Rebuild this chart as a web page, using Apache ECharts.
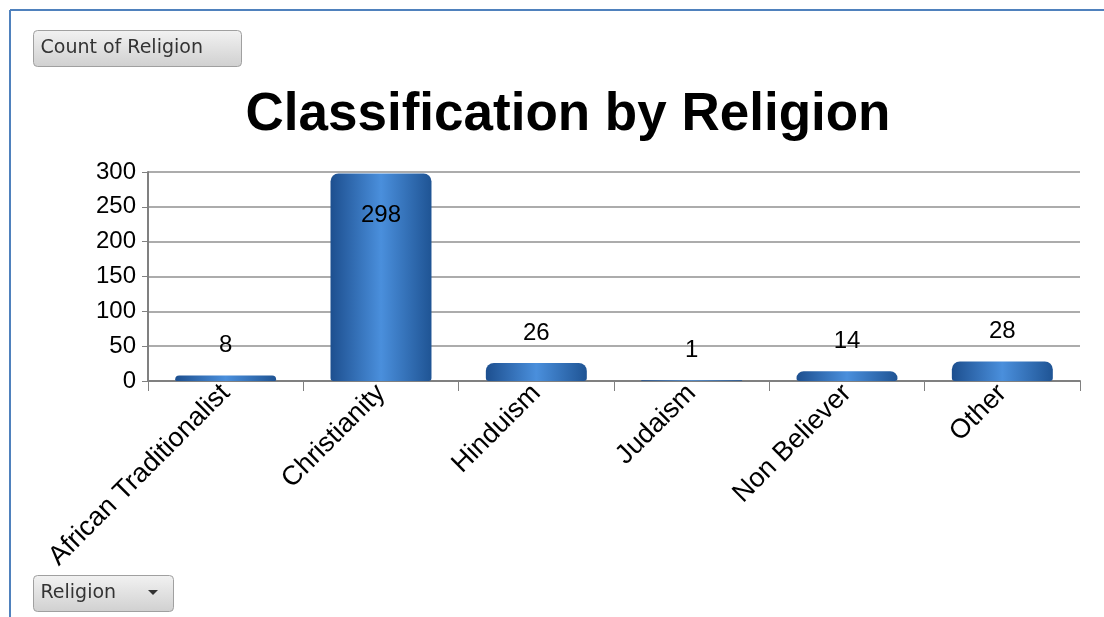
<!DOCTYPE html>
<html lang="en">
<head>
  <meta charset="UTF-8">
  <title>Classification by Religion</title>
  <script src="https://cdn.jsdelivr.net/npm/echarts@6/dist/echarts.min.js"></script>
  <style>
    * { margin: 0; padding: 0; }
    body { background: #fff; }
    #main { width: 1104px; height: 617px; }
  </style>
</head>
<body>
  <div id="main"></div>
  <script>
    var categories = ['African Traditionalist', 'Christianity', 'Hinduism', 'Judaism', 'Non Believer', 'Other'];
    var counts = [8, 298, 26, 1, 14, 28];
    var yTicks = [0, 50, 100, 150, 200, 250, 300];

    var chart = echarts.init(document.getElementById('main'));

    var barColor = new echarts.graphic.LinearGradient(0, 0, 1, 0, [
      { offset: 0, color: '#1d4f8f' },
      { offset: 0.5, color: '#4a8fdc' },
      { offset: 1, color: '#1f5494' }
    ]);

    var seriesData = counts.map(function (v, i) {
      var item = { value: v };
      if (v > 200) {
        item.label = { position: 'insideTop', distance: 30 };
      }
      return item;
    });

    function button(x, y, w, h, text) {
      return {
        type: 'group', left: x, top: y,
        children: [
          { type: 'rect', shape: { width: w, height: h, r: 4 },
            style: { fill: new echarts.graphic.LinearGradient(0, 0, 0, 1, [
              { offset: 0, color: '#f2f2f2' }, { offset: 1, color: '#d0d0d0' }]),
              stroke: '#a0a0a0', lineWidth: 1 } },
          { type: 'text', left: 7, top: 8,
            style: { text: text, font: '19px "DejaVu Sans", sans-serif', fill: '#333' } }
        ]
      };
    }

    var option = {
      animation: false,
      title: {
        text: 'Classification by Religion',
        left: 563, top: 84, textAlign: 'center',
        textStyle: { fontFamily: 'Liberation Sans, Arial', fontSize: 53, fontWeight: 'bold', color: '#000' }
      },
      graphic: [
        { type: 'line', shape: { x1: 10, y1: 10, x2: 1104, y2: 10 }, style: { stroke: '#4f81bd', lineWidth: 2 } },
        { type: 'line', shape: { x1: 10, y1: 10, x2: 10, y2: 617 }, style: { stroke: '#4f81bd', lineWidth: 2 } },
        button(33, 30, 208, 36, 'Count of Religion'),
        button(33, 575, 140, 36, 'Religion'),
        { type: 'polygon', left: 148, top: 590, shape: { points: [[0, 0], [10, 0], [5, 5]] }, style: { fill: '#333' } }
      ],
      grid: { left: 148, right: 24, top: 172, bottom: 236 },
      xAxis: {
        type: 'category',
        data: categories,
        axisLine: { lineStyle: { color: '#808080', width: 2 } },
        axisTick: { show: true, length: 10, lineStyle: { color: '#808080' } },
        axisLabel: { rotate: 45, fontSize: 27, color: '#000', fontFamily: 'Liberation Sans, Arial', margin: 8 }
      },
      yAxis: {
        type: 'value',
        min: yTicks[0], max: yTicks[yTicks.length - 1], interval: 50,
        axisLine: { show: true, lineStyle: { color: '#808080', width: 2 } },
        axisTick: { show: true, length: 6, lineStyle: { color: '#808080' } },
        splitLine: { lineStyle: { color: '#909090', width: 1.5 } },
        axisLabel: { fontSize: 24, color: '#000', fontFamily: 'Liberation Sans, Arial', margin: 12 }
      },
      series: [{
        type: 'bar',
        data: seriesData,
        barWidth: '65%',
        itemStyle: { color: barColor, borderRadius: [8, 8, 3, 3] },
        label: {
          show: true, position: 'top', distance: 18,
          fontSize: 24, color: '#000', fontFamily: 'Liberation Sans, Arial'
        }
      }]
    };
    chart.setOption(option);
  </script>
</body>
</html>
